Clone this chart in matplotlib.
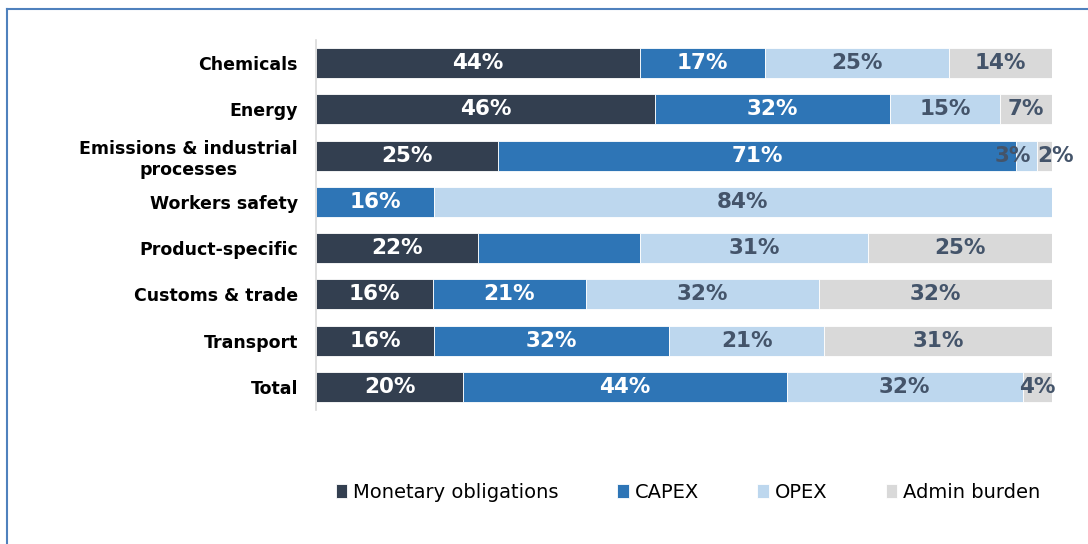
import matplotlib.pyplot as plt
from matplotlib.lines import Line2D
import numpy as np

categories = ['Chemicals', 'Energy', 'Emissions & industrial\nprocesses', 'Workers safety',
              'Product-specific', 'Customs & trade', 'Transport', 'Total']
series_names = ['Monetary obligations', 'CAPEX', 'OPEX', 'Admin burden']
monetary = [44, 46, 25, 0, 22, 16, 16, 20]
capex = [17, 32, 71, 16, 22, 21, 32, 44]
opex = [25, 15, 3, 84, 31, 32, 21, 32]
admin = [14, 7, 2, 0, 25, 32, 31, 4]
# segments printed without a label in the source
hidden = [(4, 1)]

colors = ['#333f50', '#2e75b6', '#bdd7ee', '#d9d9d9']
text_colors = ['white', 'white', '#44546a', '#44546a']
# small label nudges (points) where segments are too narrow
nudge = {(2, 2): -10, (2, 3): 8}

fig = plt.figure(figsize=(10.88, 5.44), dpi=100)
ax = fig.add_axes([316 / 1088, 1 - 410 / 544, (1052 - 316) / 1088, 370 / 544])

data = np.array([monetary, capex, opex, admin], dtype=float)
totals = data.sum(axis=0)  # 100% stacked: every row drawn to full width
y = np.arange(len(categories))
left = np.zeros(len(categories))
for s in range(len(series_names)):
    vals = data[s]
    widths = vals / totals * 100
    ax.barh(y, widths, left=left, height=0.65, color=colors[s], label=series_names[s],
            edgecolor='white', linewidth=0.6)
    for i, v in enumerate(vals):
        if v <= 0 or (i, s) in hidden:
            continue
        ax.annotate(f'{int(v)}%', (left[i] + widths[i] / 2, y[i]),
                    xytext=(nudge.get((i, s), 0), 0), textcoords='offset points',
                    ha='center', va='center', color=text_colors[s],
                    fontsize=15.5, fontweight='bold', annotation_clip=False)
    left += widths

ax.set_xlim(0, 100)
ax.set_ylim(len(categories) - 0.5, -0.5)
ax.set_yticks(y)
ax.set_yticklabels(categories, fontsize=12.5, fontweight='bold', linespacing=1.25,
                   multialignment='center')
ax.tick_params(axis='y', length=0, pad=13)
ax.set_xticks([])
for sp in ['top', 'right', 'bottom']:
    ax.spines[sp].set_visible(False)
ax.spines['left'].set_color('#d9d9d9')
ax.spines['left'].set_linewidth(1.2)

fig.legend(loc='center', bbox_to_anchor=(688 / 1088, 1 - 492 / 544), ncol=4, frameon=False,
           fontsize=14, handlelength=0.6, handleheight=0.75, handletextpad=0.3,
           columnspacing=3.0)

# outer frame (left and top edges visible in the source)
fig.add_artist(Line2D([7 / 1088, 7 / 1088], [0, 1 - 9 / 544], transform=fig.transFigure,
                      color='#4f81bd', linewidth=1.5))
fig.add_artist(Line2D([7 / 1088, 1], [1 - 9 / 544, 1 - 9 / 544], transform=fig.transFigure,
                      color='#4f81bd', linewidth=1.5))

plt.savefig('out.png', dpi=100)
